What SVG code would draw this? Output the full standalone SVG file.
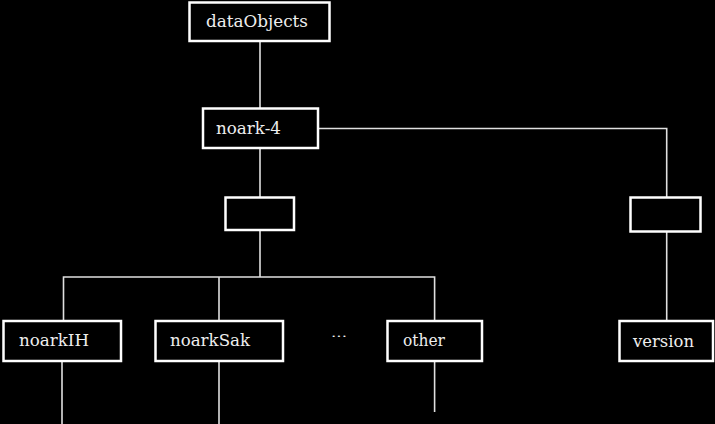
<svg xmlns="http://www.w3.org/2000/svg" width="715" height="424" viewBox="0 0 715 424">
<style>
.box{fill:#000;stroke:#fff;stroke-width:2.5}
.lbl{font-family:"DejaVu Serif","Liberation Serif",serif;font-size:17px;fill:#eee}
.con{stroke:#e0e0e0;stroke-width:1.6;fill:none}
</style>
<rect width="715" height="424" fill="#000"/>
<g id="connectors">
<path class="con" d="M260 41V108"/>
<path class="con" d="M260 148V197"/>
<path class="con" d="M260 230V277"/>
<path class="con" d="M63.5 321V277H434.6V321"/>
<path class="con" d="M219 277V321"/>
<path class="con" d="M318 128.5H666.7V197"/>
<path class="con" d="M666.7 232V321"/>
<path class="con" d="M62 361V424"/>
<path class="con" d="M219 361V424"/>
<path class="con" d="M434.6 361V412"/>
</g>
<g id="dataObjects"><rect class="box" x="189.5" y="2.5" width="140" height="38.5"/><text class="lbl" x="206" y="27" textLength="102" lengthAdjust="spacingAndGlyphs">dataObjects</text></g>
<g id="noark4"><rect class="box" x="203" y="108.5" width="115" height="39.5"/><text class="lbl" x="216" y="134" textLength="65" lengthAdjust="spacingAndGlyphs">noark-4</text></g>
<g id="choice1"><rect class="box" x="225.5" y="197.5" width="68.5" height="32.5"/></g>
<g id="choice2"><rect class="box" x="630.5" y="197.5" width="70" height="34"/></g>
<g id="noarkIH"><rect class="box" x="3.5" y="321" width="117.5" height="40"/><text class="lbl" x="19" y="346" textLength="70" lengthAdjust="spacingAndGlyphs">noarkIH</text></g>
<g id="noarkSak"><rect class="box" x="155.5" y="321" width="127.5" height="40"/><text class="lbl" x="170" y="346" textLength="80" lengthAdjust="spacingAndGlyphs">noarkSak</text></g>
<g id="ellipsis"><text class="lbl" x="331" y="337" style="font-size:11px" textLength="16" lengthAdjust="spacingAndGlyphs">...</text></g>
<g id="other"><rect class="box" x="387.5" y="321" width="94.5" height="40"/><text class="lbl" x="403" y="346" textLength="42" lengthAdjust="spacingAndGlyphs">other</text></g>
<g id="version"><rect class="box" x="619.5" y="321" width="93.5" height="40"/><text class="lbl" x="633" y="347" textLength="61" lengthAdjust="spacingAndGlyphs">version</text></g>
</svg>
